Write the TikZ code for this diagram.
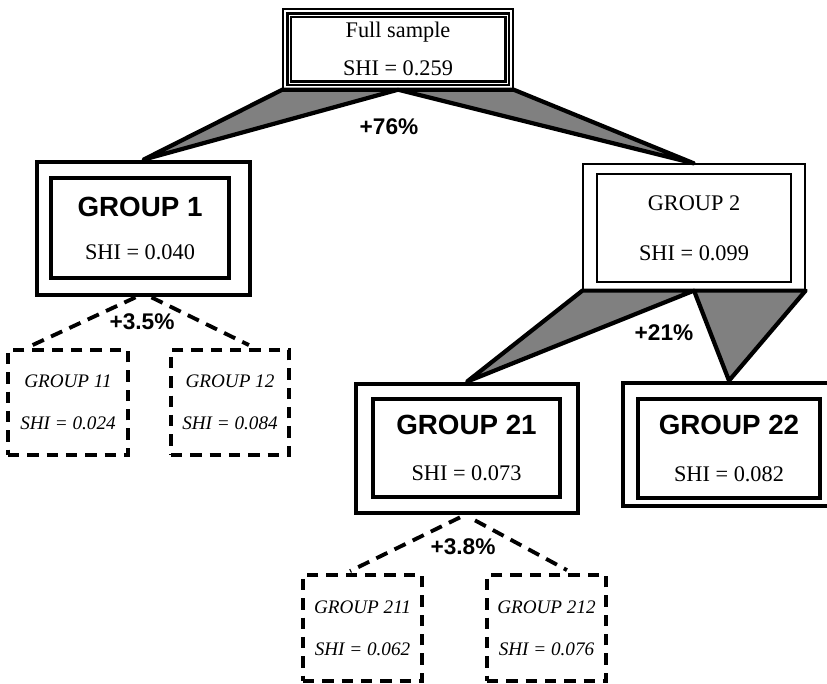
\documentclass[tikz,border=0pt]{standalone}
\usepackage{fontspec}
\setmainfont{Liberation Serif}
\setsansfont{Liberation Sans}
\usetikzlibrary{calc}
\newcommand{\headfont}{\sffamily\bfseries\fontsize{15.8}{19}\selectfont}
\newcommand{\gainfont}{\sffamily\bfseries\fontsize{12.9}{15}\selectfont}
\tikzset{
	boxtext/.style={align=center, inner sep=0pt},
	heavyout/.style={draw, line width=2.7pt, inner sep=0pt},
	heavyin/.style={draw, line width=1.8pt, boxtext},
	lightbox/.style={draw, line width=0.7pt, boxtext},
	dashbox/.style={draw, line width=2.2pt, dash pattern=on 6.5pt off 4.5pt, boxtext, font=\itshape\fontsize{10.9}{23.9}\selectfont},
	wedge/.style={draw, fill=black!50, line width=2.4pt, line join=round},
	dashlink/.style={line width=2.2pt, dash pattern=on 7pt off 4.5pt},
	gain/.style={font=\gainfont, inner sep=0pt}
}

\begin{document}
\begin{tikzpicture}[x=0.02cm, y=-0.02cm]
			%%%%% START %%%%%
			\useasboundingbox (0, 0) rectangle (827, 683);
			
			% full sample
			\node[lightbox, line width=0.8pt, minimum width=4.6cm, minimum height=1.6cm] (full) at (398, 49) {};
			\node[draw, boxtext, line width=1.5pt, double=white, double distance=0.5pt, minimum width=4.36cm, minimum height=1.36cm, font=\fontsize{12.7}{21.6}\selectfont] (fullin) at (398, 49) {Full sample\\SHI = 0.259};
			
			% first split
			\node[heavyout, minimum width=4.26cm, minimum height=2.66cm] (g1) at (143.5, 228.5) {};
			\node[heavyin, minimum width=3.56cm, minimum height=2cm, font=\fontsize{12.7}{24.5}\selectfont] (g1in) at (140, 228) {{\headfont GROUP 1}\\SHI = 0.040};
			
			\node[lightbox, minimum width=4.44cm, minimum height=2.52cm] (g2) at (694, 227) {};
			\node[lightbox, minimum width=3.88cm, minimum height=2.16cm, font=\fontsize{12.7}{28.5}\selectfont] (g2in) at (694, 228) {GROUP 2\\SHI = 0.099};
			
			\draw[wedge] (full.south west) -- (full.south) -- (g1.north) -- cycle;
			\draw[wedge] (full.south) -- (full.south east) -- (g2.north) -- cycle;
			\node[gain] (gain76) at (389, 127) {+76\%};
			
			% group 1 split
			\node[dashbox, minimum width=2.4cm, minimum height=2.1cm] (g11) at (68, 402.5) {GROUP 11\\SHI = 0.024};
			\node[dashbox, minimum width=2.36cm, minimum height=2.1cm] (g12) at (230, 402.5) {GROUP 12\\SHI = 0.084};
			
			\draw[dashlink] ($(g1.south)+(-8, 0)$) -- ($(g11.north west)+(20, 0)$);
			\draw[dashlink] ($(g1.south)+(8, 0)$) -- ($(g12.north east)+(-42, -3)$);
			\node[gain] (gain35) at (142, 322) {+3.5\%};
			
			% group 2 split
			\node[heavyout, minimum width=4.44cm, minimum height=2.58cm] (g21) at (467, 448.5) {};
			\node[heavyin, minimum width=3.74cm, minimum height=1.96cm, font=\fontsize{12.7}{26.5}\selectfont] (g21in) at (466.5, 448) {{\headfont GROUP 21}\\SHI = 0.073};
			
			\node[heavyout, minimum width=4.24cm, minimum height=2.46cm] (g22) at (729, 444.5) {};
			\node[heavyin, minimum width=3.64cm, minimum height=1.98cm, font=\fontsize{12.7}{26.5}\selectfont] (g22in) at (729, 448.5) {{\headfont GROUP 22}\\SHI = 0.082};
			
			\draw[wedge] (g2.south west) -- (g2.south) -- (g21.north) -- cycle;
			\draw[wedge] (g2.south) -- (g2.south east) -- (g22.north) -- cycle;
			\node[gain] (gain21) at (664, 333) {+21\%};
			
			% group 21 split
			\node[dashbox, minimum width=2.38cm, minimum height=2.12cm] (g211) at (362.5, 628) {GROUP 211\\SHI = 0.062};
			\node[dashbox, minimum width=2.38cm, minimum height=2.12cm] (g212) at (546.5, 628) {GROUP 212\\SHI = 0.076};
			
			\draw[dashlink] ($(g21.south)+(-7, 2)$) -- ($(g211.north west)+(49, -2)$);
			\draw[dashlink] ($(g21.south)+(8, 5)$) -- ($(g212.north east)+(-41, -3)$);
			\node[gain] (gain38) at (463, 547) {+3.8\%};
			
			%%%%% END %%%%%
\end{tikzpicture}
\end{document}
